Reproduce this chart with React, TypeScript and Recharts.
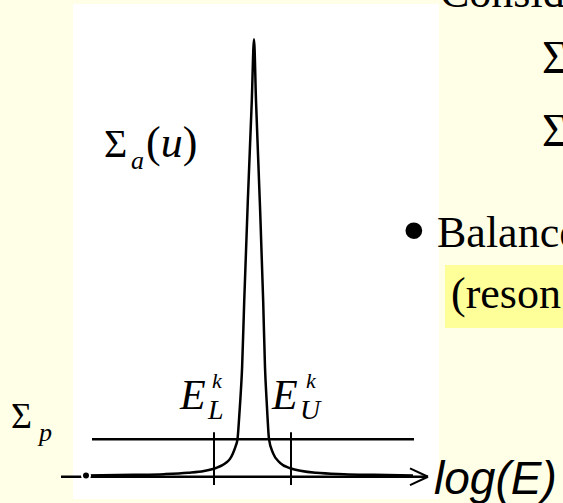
import React from "react";
import {
  ComposedChart,
  Line,
  XAxis,
  YAxis,
  ReferenceLine,
  ReferenceArea,
} from "recharts";

// Resonance absorption cross-section Σa(u) against log(E), centred on the resonance (0).
const logEnergy = [
  -16.8, -12, -9, -6.6, -5, -3.8, -3.2, -2.8, -2.4, -2.1, -1.85, -1.65, -1.48,
  -1.37, -1.19, -0.98, -0.62, -0.22, 0, 0.2, 0.58, 0.92, 1.1, 1.26, 1.35, 1.5,
  1.9, 2.6, 3.55, 6.2, 9, 12, 15.9,
];
const sigmaA = [
  0.3, 0.45, 0.6, 0.9, 1.3, 2.0, 2.6, 3.2, 4.1, 5.4, 6.9, 8.6, 13.7, 17.5, 25,
  40, 63, 86, 100, 86, 63, 40, 25, 17.5, 13.7, 8.6, 5.4, 3.2, 2.0, 0.9, 0.6,
  0.45, 0.3,
];

// Potential scattering level Σp and the group boundaries E_L^k, E_U^k.
const sigmaP = 8.6;
const sigmaPSpan = [-16.2, 16.0];
const groupLower = -4.0;
const groupUpper = 3.7;
const boundaryTicks = [-1.9, 10.2];

// Extent of the log(E) axis arrow.
const axisSpan = [-19.3, 17.4];
const arrowBack = 15.6;
const arrowHalf = 1.9;

// Plot window and the white figure panel.
const xDomain = [-25.4, 30.9];
const yDomain = [-6, 109];
const panelX = [-18.1, 18.5];
const panelY = [-5.1, 108.1];
const highlightX = [19.1, 30.9];
const highlightY = [34.0, 48.4];

const data = logEnergy.map((x, i) => ({ x, sigma: sigmaA[i] }));

const W = 563;
const H = 503;
const serif = '"Liberation Serif", "Times New Roman", serif';
const sans = '"Liberation Sans", Arial, sans-serif';
const serifStyle = { fontFamily: serif };
const sansStyle = { fontFamily: sans };

export default function App() {
  return (
    <div
      style={{
        position: "absolute",
        left: 0,
        top: 0,
        width: W,
        height: H,
        background: "#FFFFE7",
        overflow: "hidden",
      }}
    >
      <ComposedChart
        width={W}
        height={H}
        data={data}
        margin={{ top: 0, right: 0, bottom: 0, left: 0 }}
      >
        <XAxis
          type="number"
          dataKey="x"
          domain={xDomain}
          allowDataOverflow
          hide
        />
        <YAxis type="number" domain={yDomain} allowDataOverflow hide />
        <ReferenceArea
          x1={panelX[0]}
          x2={panelX[1]}
          y1={panelY[0]}
          y2={panelY[1]}
          fill="#ffffff"
          fillOpacity={1}
          stroke="none"
        />
        <ReferenceArea
          x1={highlightX[0]}
          x2={highlightX[1]}
          y1={highlightY[0]}
          y2={highlightY[1]}
          fill="#FFFF99"
          fillOpacity={1}
          stroke="none"
        />
        <ReferenceLine
          segment={[
            { x: axisSpan[0], y: 0 },
            { x: axisSpan[1], y: 0 },
          ]}
          stroke="#000"
          strokeWidth={2.5}
        />
        <ReferenceLine
          segment={[
            { x: arrowBack, y: arrowHalf },
            { x: axisSpan[1], y: 0 },
          ]}
          stroke="#000"
          strokeWidth={2}
        />
        <ReferenceLine
          segment={[
            { x: arrowBack, y: -arrowHalf },
            { x: axisSpan[1], y: 0 },
          ]}
          stroke="#000"
          strokeWidth={2}
        />
        <ReferenceLine
          segment={[
            { x: sigmaPSpan[0], y: sigmaP },
            { x: sigmaPSpan[1], y: sigmaP },
          ]}
          stroke="#000"
          strokeWidth={2.5}
        />
        <ReferenceLine
          segment={[
            { x: groupLower, y: boundaryTicks[0] },
            { x: groupLower, y: boundaryTicks[1] },
          ]}
          stroke="#000"
          strokeWidth={2}
        />
        <ReferenceLine
          segment={[
            { x: groupUpper, y: boundaryTicks[0] },
            { x: groupUpper, y: boundaryTicks[1] },
          ]}
          stroke="#000"
          strokeWidth={2}
        />
        <Line
          dataKey="sigma"
          type="monotone"
          stroke="#000"
          strokeWidth={2.5}
          dot={false}
          isAnimationActive={false}
        />
      </ComposedChart>
      <svg
        width={W}
        height={H}
        style={{ position: "absolute", left: 0, top: 0, pointerEvents: "none" }}
      >
        <text x={104} y={157} style={serifStyle} fontSize={40} fill="#000">
          Σ
          <tspan x={131} y={169} fontSize={26} fontStyle="italic">
            a
          </tspan>
          <tspan x={146} y={157} fontSize={44}>
            (
          </tspan>
          <tspan fontStyle="italic" fontSize={44}>
            u
          </tspan>
          <tspan fontSize={44}>)</tspan>
        </text>
        <text x={11} y={428} style={serifStyle} fontSize={36} fill="#000">
          Σ
          <tspan x={39} y={441} fontSize={26} fontStyle="italic">
            p
          </tspan>
        </text>
        <text x={180} y={409} style={serifStyle} fontSize={42} fontStyle="italic" fill="#000">
          E
          <tspan x={212} y={388} fontSize={22}>
            k
          </tspan>
          <tspan x={208} y={419} fontSize={28}>
            L
          </tspan>
        </text>
        <text x={272} y={409} style={serifStyle} fontSize={42} fontStyle="italic" fill="#000">
          E
          <tspan x={306} y={388} fontSize={22}>
            k
          </tspan>
          <tspan x={300} y={419} fontSize={28}>
            U
          </tspan>
        </text>
        <text x={434} y={494} style={sansStyle} fontSize={46} fontStyle="italic" fill="#000">
          log(E)
        </text>
        <text x={403} y={2} style={sansStyle} fontSize={62} fill="#000">
          •
        </text>
        <text x={440} y={7} style={serifStyle} fontSize={44} fill="#000">
          Consid
        </text>
        <text x={542} y={73} style={serifStyle} fontSize={46} fill="#000">
          Σ
        </text>
        <text x={542} y={146} style={serifStyle} fontSize={46} fill="#000">
          Σ
        </text>
        <text x={403} y={251} style={sansStyle} fontSize={62} fill="#000">
          •
        </text>
        <text x={437} y={247} style={serifStyle} fontSize={44} fill="#000">
          Balance
        </text>
        <text x={451} y={308} style={serifStyle} fontSize={44} fill="#000">
          (reson
        </text>
      </svg>
    </div>
  );
}
